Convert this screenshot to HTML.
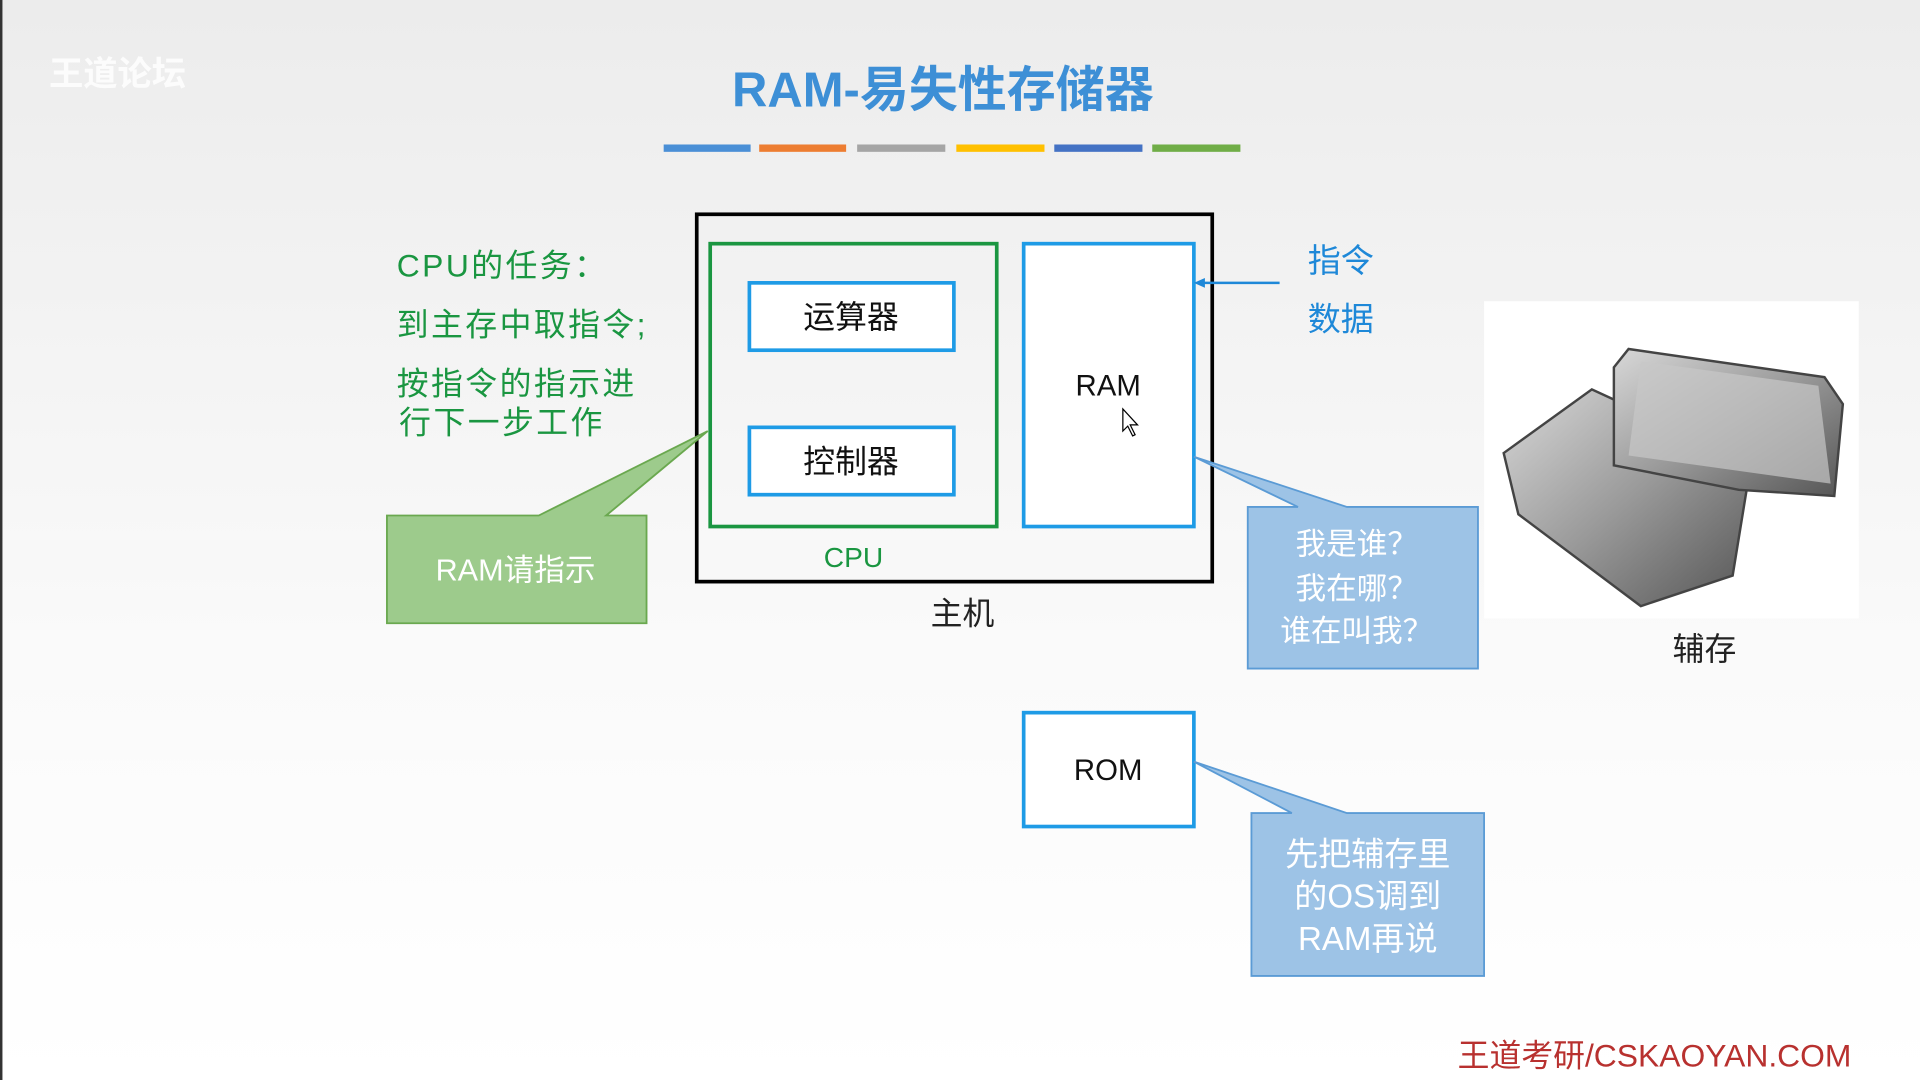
<!DOCTYPE html>
<html><head><meta charset="utf-8"><style>
html,body{margin:0;padding:0;width:1920px;height:1080px;overflow:hidden;background:#fff}
svg{display:block}
text{font-family:"Liberation Sans","Noto Sans CJK SC",sans-serif}
</style></head><body>
<svg width="1920" height="1080" viewBox="0 0 1568 882" preserveAspectRatio="none" xmlns="http://www.w3.org/2000/svg">
<defs>
<linearGradient id="bg" x1="0" y1="0" x2="0" y2="1">
<stop offset="0" stop-color="#ececec"/><stop offset="0.6" stop-color="#fafafa"/><stop offset="1" stop-color="#ffffff"/>
</linearGradient>
<linearGradient id="hd" x1="0" y1="0" x2="1" y2="1">
<stop offset="0" stop-color="#d8d8d8"/><stop offset="0.5" stop-color="#9a9a9a"/><stop offset="1" stop-color="#555"/>
</linearGradient>
</defs>
<rect width="1568" height="882" fill="url(#bg)"/>
<rect x="0" y="0" width="2" height="882" fill="#333"/>
<text x="40" y="70" font-size="28" font-weight="bold" fill="#fff" opacity="0.85">王道论坛</text>
<text x="770" y="87" font-size="40" font-weight="bold" fill="#3d8fd6" text-anchor="middle">RAM-易失性存储器</text>
<rect x="542" y="118" width="71" height="6" fill="#4a8fd6"/>
<rect x="620" y="118" width="71" height="6" fill="#ed7d31"/>
<rect x="700" y="118" width="72" height="6" fill="#a5a5a5"/>
<rect x="781" y="118" width="72" height="6" fill="#ffc000"/>
<rect x="861" y="118" width="72" height="6" fill="#4472c4"/>
<rect x="941" y="118" width="72" height="6" fill="#70ad47"/>

<rect x="569" y="175" width="421" height="300" fill="none" stroke="#000" stroke-width="3"/>
<rect x="580" y="199" width="234" height="231" fill="none" stroke="#1a9641" stroke-width="3"/>
<rect x="612" y="231" width="167" height="55" fill="#fff" stroke="#1e9be6" stroke-width="3"/>
<text x="695" y="268" font-size="26" text-anchor="middle" fill="#111">运算器</text>
<rect x="612" y="349" width="167" height="55" fill="#fff" stroke="#1e9be6" stroke-width="3"/>
<text x="695" y="386" font-size="26" text-anchor="middle" fill="#111">控制器</text>
<rect x="836" y="199" width="139" height="231" fill="#fff" stroke="#1e9be6" stroke-width="3"/>
<text x="905" y="323" font-size="24" text-anchor="middle" fill="#111">RAM</text>
<path d="M917 334 L917 352 L921 348 L925 356 L927 355 L923 347 L929 347 Z" fill="#fff" stroke="#000" stroke-width="1"/>
<text x="697" y="463" font-size="23" text-anchor="middle" fill="#1a9641">CPU</text>
<text x="786" y="510" font-size="26" text-anchor="middle" fill="#222">主机</text>

<line x1="1045" y1="231" x2="982" y2="231" stroke="#1e88d8" stroke-width="2"/>
<path d="M975 231 L984 227 L984 235 Z" fill="#1e88d8"/>
<text x="1095" y="222" font-size="27" text-anchor="middle" fill="#1e88d8">指令</text>
<text x="1095" y="270" font-size="27" text-anchor="middle" fill="#1e88d8">数据</text>

<g font-size="26" fill="#1a9641" letter-spacing="2">
<text x="324" y="226">CPU的任务：</text>
<text x="324" y="274">到主存中取指令;</text>
<text x="324" y="322">按指令的指示进</text>
<text x="326" y="354">行下一步工作</text>
</g>

<path d="M316 421 L440 421 L578 352 L495 421 L528 421 L528 509 L316 509 Z" fill="#9dcb8c" stroke="#6aa84f" stroke-width="1.5"/>
<text x="421" y="474" font-size="25" text-anchor="middle" fill="#fff">RAM请指示</text>

<path d="M1019 414 L1060 414 L975 373 L1100 414 L1207 414 L1207 546 L1019 546 Z" fill="#9dc3e6" stroke="#5b9bd5" stroke-width="1.5"/>
<g font-size="25" fill="#fff" text-anchor="middle">
<text x="1108" y="453">我是谁？</text>
<text x="1108" y="489">我在哪？</text>
<text x="1108" y="524">谁在叫我？</text>
</g>

<rect x="836" y="582" width="139" height="93" fill="#fff" stroke="#1e9be6" stroke-width="3"/>
<text x="905" y="637" font-size="24" text-anchor="middle" fill="#111">ROM</text>
<path d="M1022 664 L1055 664 L975 622 L1100 664 L1212 664 L1212 797 L1022 797 Z" fill="#9dc3e6" stroke="#5b9bd5" stroke-width="1.5"/>
<g font-size="27" fill="#fff" text-anchor="middle">
<text x="1117" y="707">先把辅存里</text>
<text x="1117" y="741">的OS调到</text>
<text x="1117" y="776">RAM再说</text>
</g>

<rect x="1212" y="246" width="306" height="259" fill="#fff"/>
<path d="M1228 370 L1300 318 L1430 378 L1415 470 L1340 495 L1240 420 Z" fill="url(#hd)" stroke="#444" stroke-width="2"/>
<path d="M1318 300 L1330 285 L1490 308 L1505 330 L1498 405 L1420 400 L1318 380 Z" fill="url(#hd)" stroke="#444" stroke-width="2"/>
<path d="M1340 295 L1485 315 L1495 395 L1330 372 Z" fill="#c8c8c8" opacity="0.7"/>
<text x="1392" y="539" font-size="26" text-anchor="middle" fill="#222">辅存</text>

<text x="1512" y="871" font-size="26" text-anchor="end" fill="#b8312f">王道考研/CSKAOYAN.COM</text>
</svg>
</body></html>
